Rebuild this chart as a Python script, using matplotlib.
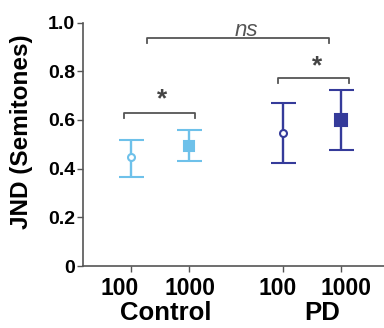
import matplotlib
matplotlib.use('Agg')
import matplotlib.pyplot as plt
import matplotlib.transforms as mtransforms

# data
freq_labels = ['100', '1000', '100', '1000']
groups = ['Control', 'PD']
xpos = [1, 2, 3.59, 4.59]
means = [0.449, 0.493, 0.547, 0.600]
err_low = [0.082, 0.062, 0.125, 0.124]
err_high = [0.068, 0.064, 0.124, 0.122]

light = '#6EC1EA'
dark = '#353B9A'
grey = '#555555'

plt.rcParams['font.family'] = ['Liberation Sans', 'DejaVu Sans']
plt.rcParams['font.weight'] = 'bold'

fig = plt.figure(figsize=(3.84, 3.28), dpi=100)
ax = fig.add_axes([0.217, 0.189, 0.783, 0.742])

styles = [
    (light, 'o', 'white', 5),
    (light, 's', light, 7),
    (dark, 'o', 'white', 5),
    (dark, 's', dark, 8),
]
for i in range(4):
    col, mk, face, ms = styles[i]
    ax.errorbar(xpos[i], means[i], yerr=[[err_low[i]], [err_high[i]]],
                fmt=mk, color=col, mfc=face, mec=col, ms=ms, mew=1.5,
                elinewidth=1.7, capsize=9, capthick=1.7, zorder=3)

# significance brackets
def bracket(x1, x2, y, drop):
    ax.plot([x1, x1, x2, x2], [y - drop, y, y, y - drop], color=grey, lw=1.3,
            clip_on=False)

bracket(0.89, 2.10, 0.627, 0.018)
ax.text(1.54, 0.683, '*', ha='center', va='center', fontsize=19,
        fontweight='bold', color='#444444')
bracket(3.51, 4.73, 0.771, 0.017)
ax.text(4.18, 0.822, '*', ha='center', va='center', fontsize=19,
        fontweight='bold', color='#444444')
bracket(1.28, 4.38, 0.935, 0.017)
ax.text(2.98, 0.946, 'ns', ha='center', va='baseline', fontsize=16,
        fontweight='normal', style='italic', color=grey, clip_on=False)

ax.set_xlim(0.19, 5.32)
ax.set_ylim(0, 1.0)
ax.set_yticks([0, 0.2, 0.4, 0.6, 0.8, 1.0])
ax.set_yticklabels(['0', '0.2', '0.4', '0.6', '0.8', '1.0'])
ax.set_xticks(xpos)
ax.set_xticklabels(freq_labels)

ax.tick_params(axis='y', labelsize=14, length=4, width=1, color=grey, pad=2)
ax.tick_params(axis='x', labelsize=16.5, length=4, width=1, color=grey, pad=4)

# the labels sit slightly off their ticks in the original
shifts = [-11.5, 0.2, -5, 4.5]
for lab, dx in zip(ax.get_xticklabels(), shifts):
    off = mtransforms.ScaledTranslation(dx / 100, 0, fig.dpi_scale_trans)
    lab.set_transform(lab.get_transform() + off)

for s in ['top', 'right']:
    ax.spines[s].set_visible(False)
for s in ['left', 'bottom']:
    ax.spines[s].set_color(grey)
    ax.spines[s].set_linewidth(1.2)

ax.set_ylabel('JND (Semitones)', fontsize=17.5, fontweight='bold')
ax.yaxis.set_label_coords(-0.167, 0.55)

ax.text(1.60, -0.222, groups[0], ha='center', va='baseline',
        fontsize=18.5, fontweight='bold')
ax.text(4.26, -0.222, groups[1], ha='center', va='baseline',
        fontsize=18.5, fontweight='bold')

fig.savefig('out.png', dpi=100)
